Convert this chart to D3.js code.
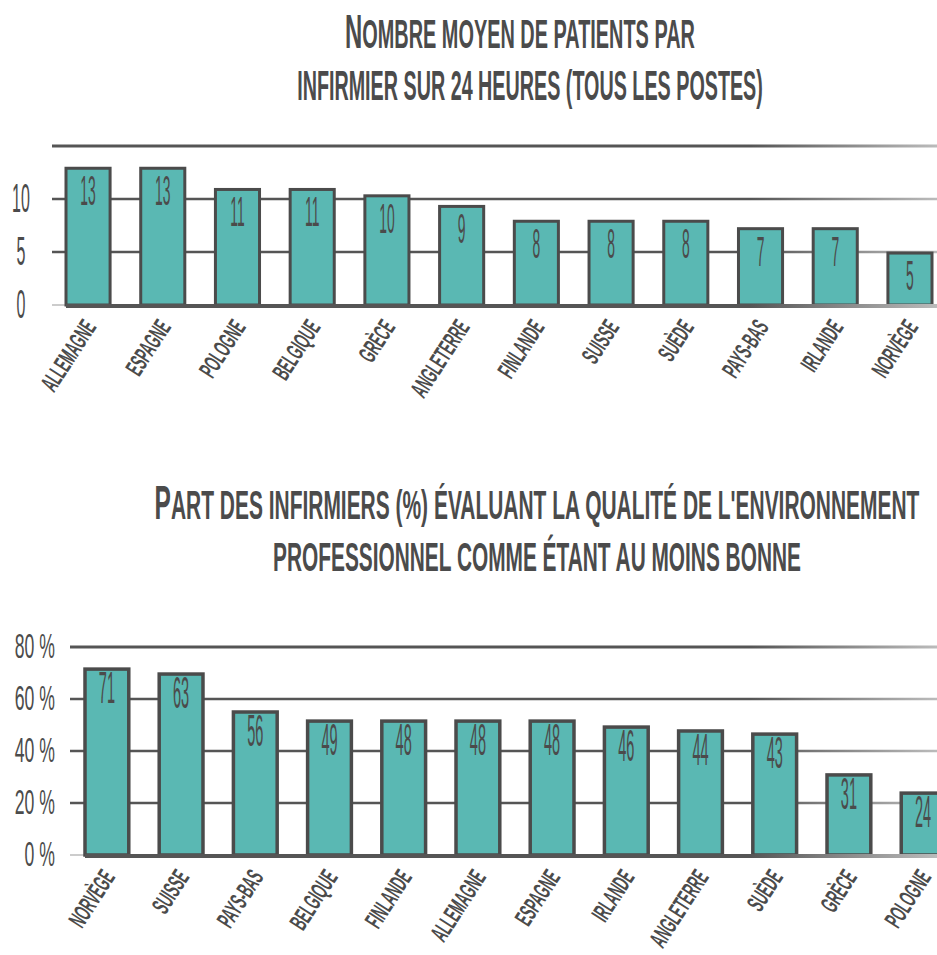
<!DOCTYPE html>
<html><head><meta charset="utf-8">
<script src="https://cdn.jsdelivr.net/npm/d3@7"></script>
<style>
body{margin:0;background:#fff}
svg text{font-family:"Liberation Sans","DejaVu Sans",sans-serif;fill:#4b4b4b}
</style>
</head><body>
<svg id="c" width="937" height="955"></svg>
<script>
// ---------- Chart 1 data ----------
const countries1 = ["ALLEMAGNE","ESPAGNE","POLOGNE","BELGIQUE","GRÈCE","ANGLETERRE","FINLANDE","SUISSE","SUÈDE","PAYS-BAS","IRLANDE","NORVÈGE"];
const values1 = [12.9,12.9,10.9,10.9,10.3,9.3,7.9,7.9,7.9,7.2,7.2,4.9];
const labels1 = ["13","13","11","11","10","9","8","8","8","7","7","5"];
const ticks1 = [0,5,10];
const tickLabels1 = ["0","5","10"];
const grid1 = [5,10,15];
const title1 = [["N","OMBRE MOYEN DE PATIENTS PAR"],["","INFIRMIER SUR 24 HEURES (TOUS LES POSTES)"]];

// ---------- Chart 2 data ----------
const countries2 = ["NORVÈGE","SUISSE","PAYS-BAS","BELGIQUE","FINLANDE","ALLEMAGNE","ESPAGNE","IRLANDE","ANGLETERRE","SUÈDE","GRÈCE","POLOGNE"];
const values2 = [71.5,69.6,55,51.5,51.5,51.5,51.5,49.2,47.7,46.5,30.8,23.8];
const labels2 = ["71","63","56","49","48","48","48","46","44","43","31","24"];
const ticks2 = [0,20,40,60,80];
const tickLabels2 = ["0 %","20 %","40 %","60 %","80 %"];
const grid2 = [20,40,60,80];
const title2 = [["P","ART DES INFIRMIERS (%) ÉVALUANT LA QUALITÉ DE L'ENVIRONNEMENT"],["","PROFESSIONNEL COMME ÉTANT AU MOINS BONNE"]];

const svg = d3.select("#c");
const INK = "#4b4b4b";
const TEAL = "#5ab8b3";

const defs = svg.append("defs");
const fade = defs.append("linearGradient").attr("id","fade")
  .attr("gradientUnits","userSpaceOnUse").attr("x1",0).attr("x2",937).attr("y1",0).attr("y2",0);
fade.append("stop").attr("offset","0%").attr("stop-color","#555");
fade.append("stop").attr("offset","80%").attr("stop-color","#555");
fade.append("stop").attr("offset","100%").attr("stop-color","#bbb");
const vfade = defs.append("linearGradient").attr("id","vfade").attr("x1",0).attr("x2",0).attr("y1",0).attr("y2",1);
vfade.append("stop").attr("offset","0%").attr("stop-color","#ccc");
vfade.append("stop").attr("offset","20%").attr("stop-color","#666");
vfade.append("stop").attr("offset","85%").attr("stop-color","#666");
vfade.append("stop").attr("offset","100%").attr("stop-color","#ccc");

function title(lines, cx, baselines, widths, capSize, smallSize){
  lines.forEach((ln,i)=>{
    const t = svg.append("text").attr("text-anchor","middle").style("font-weight","bold");
    if(ln[0]) t.append("tspan").style("font-size",capSize+"px").text(ln[0]);
    t.append("tspan").style("font-size",smallSize[i]+"px").text(ln[1]);
    const w = t.node().getComputedTextLength();
    t.attr("transform",`translate(${cx[i]},${baselines[i]}) scale(${widths[i]/w},1)`);
  });
}

function cText(g, x, y, str, size, sx, anchor, rot, weight){
  return g.append("text")
    .attr("transform",`translate(${x},${y})` + (rot?` rotate(${rot})`:"") + ` scale(${sx},1)`)
    .attr("text-anchor",anchor).style("font-size",size+"px")
    .style("font-weight",weight||"normal").text(str);
}

function barChart(opt){
  const g = svg.append("g");
  const x = d3.scaleBand().domain(opt.cats).range(opt.xRange).paddingInner(0.41).paddingOuter(0);
  const y = d3.scaleLinear().domain(opt.yDomain).range(opt.yRange);
  g.append("line").attr("x1",opt.axisX).attr("x2",opt.axisX)
    .attr("y1",opt.axisY[0]).attr("y2",opt.axisY[1])
    .attr("stroke","url(#vfade)").attr("stroke-width",2.2);
  g.selectAll(".grid").data(opt.grid).join("line")
    .attr("x1",opt.axisX+3).attr("x2",937)
    .attr("y1",d=>y(d)).attr("y2",d=>y(d))
    .attr("stroke","url(#fade)").attr("stroke-width",(d,i)=>i===opt.grid.length-1?3:2.6);
  g.append("line").attr("x1",opt.axisX+3).attr("x2",x(opt.cats[0]))
    .attr("y1",y(0)).attr("y2",y(0)).attr("stroke","#bbb").attr("stroke-width",1.5);
  g.selectAll(".bar").data(opt.vals).join("rect")
    .attr("x",(d,i)=>x(opt.cats[i])).attr("width",x.bandwidth())
    .attr("y",d=>y(d)).attr("height",d=>y(0)-y(d))
    .attr("fill",TEAL).attr("stroke",INK).attr("stroke-width",opt.barStroke);
  g.append("line").attr("x1",x(opt.cats[0])).attr("x2",937)
    .attr("y1",y(0)+1).attr("y2",y(0)+1).attr("stroke","url(#fade)").attr("stroke-width",4);
  opt.vals.forEach((v,i)=>{
    cText(g, x(opt.cats[i])+x.bandwidth()/2, y(v)+opt.valOff, opt.labels[i], opt.valSize, opt.valSx, "middle");
  });
  opt.ticks.forEach((t,i)=>{
    cText(g, opt.tickX, y(t)+opt.tickOff, opt.tickLabels[i], opt.tickSize, opt.tickSx, opt.tickAnchor);
  });
  opt.cats.forEach(c=>{
    cText(g, x(c)+x.bandwidth()/2+9, y(0)+22, c, 25, 0.5, "end", -57, "bold");
  });
}

title(title1, [520,530], [48,100], [350,466], 48, [40,43]);
title(title2, [537,537], [519,571], [765,528], 48, [41,41]);

barChart({cats:countries1, vals:values1, labels:labels1, xRange:[66,932],
  yDomain:[0,15], yRange:[305,146], axisX:49, axisY:[128,320], grid:grid1,
  barStroke:3, valOff:37, valSize:42, valSx:0.33,
  ticks:ticks1, tickLabels:tickLabels1, tickX:21, tickOff:13, tickSize:40, tickSx:0.4, tickAnchor:"middle"});

barChart({cats:countries2, vals:values2, labels:labels2, xRange:[85,945],
  yDomain:[0,80], yRange:[855,647], axisX:67, axisY:[638,872], grid:grid2,
  barStroke:3.5, valOff:34, valSize:44, valSx:0.33,
  ticks:ticks2, tickLabels:tickLabels2, tickX:55, tickOff:11, tickSize:36, tickSx:0.49, tickAnchor:"end"});
</script>
</body></html>
